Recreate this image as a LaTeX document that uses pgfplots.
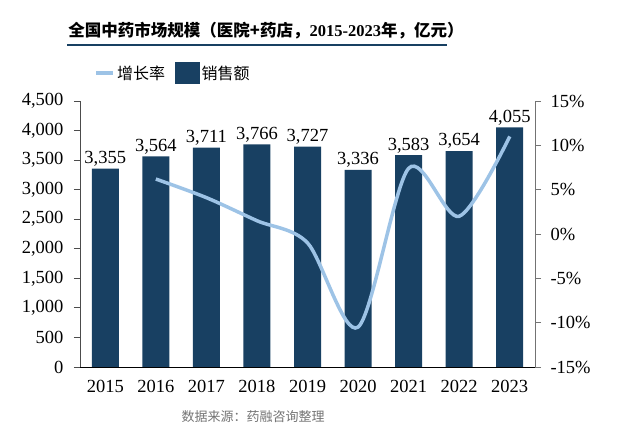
\documentclass[border=0pt]{standalone}
\usepackage{pgfplots}
\pgfplotsset{compat=1.18}
\usepackage{fontspec}
\setmainfont{Liberation Serif}
\newfontfamily\cjk{Noto Sans CJK SC}
\definecolor{navy}{RGB}{24,64,98}
\definecolor{lblue}{RGB}{157,195,230}
\begin{document}
\begin{tikzpicture}[x=1pt,y=1pt]
\useasboundingbox (0,0) rectangle (619,-435);
\node at (266,-31) {\fontsize{16.5}{17}\selectfont\cjk\bfseries 全国中药市场规模（医院+药店，{\rmfamily\bfseries 2015-2023}年，亿元）};
\draw[navy, line width=2pt] (67,-45) -- (447,-45);
\node[text=black!55] at (253,-417) {\fontsize{13}{14}\selectfont\cjk 数据来源：药融咨询整理};
\begin{axis}[
  at={(80pt,-367pt)}, anchor=south west,
  scale only axis, width=455pt, height=266pt,
  xmin=-0.5, xmax=8.5, ymin=0, ymax=4500,
  axis x line*=bottom, axis y line*=left,
  x axis line style={draw=black, line width=0.8pt, -},
  y axis line style={draw=black!70, line width=0.8pt, -},
  xtick={0,...,8}, xticklabels={2015,2016,2017,2018,2019,2020,2021,2022,2023},
  x tick style={draw=none},
  ytick={0,500,...,4500},
  y tick style={draw=black!70, line width=0.8pt},
  tick align=outside, major tick length=6pt,
  /pgf/number format/.cd, fixed, 1000 sep={,}, assume math mode=true, /pgfplots/.cd,
  tick label style={font=\fontsize{18.5}{18}\selectfont},
  y tick label style={xshift=-7pt},
  x tick label style={font=\fontsize{18.5}{18}\selectfont, yshift=-4pt},
  ybar, bar width=27pt,
  nodes near coords,
  every node near coord/.append style={font=\fontsize{18.5}{18}\selectfont, inner sep=1pt, yshift=1pt},
]
\addplot[fill=navy, draw=none] coordinates {(0,3355)(1,3564)(2,3711)(3,3766)(4,3727)(5,3336)(6,3583)(7,3654)(8,4055)};
\end{axis}
\begin{axis}[
  at={(80pt,-367pt)}, anchor=south west,
  scale only axis, width=455pt, height=266pt,
  xmin=-0.5, xmax=8.5, ymin=-15, ymax=15,
  axis x line=none, axis y line*=right,
  y axis line style={draw=black!55, line width=0.8pt, -},
  ytick={-15,-10,...,15},
  y tick style={draw=black!55, line width=0.8pt},
  tick align=outside, major tick length=6pt,
  yticklabel={\pgfmathprintnumber{\tick}\%},
  /pgf/number format/assume math mode=true,
  tick label style={font=\fontsize{18.5}{18}\selectfont, xshift=6pt},
  legend style={at={(0.025,1.105)}, anchor=west, draw=none, fill=none,
    legend columns=2, font=\fontsize{16}{16}\selectfont\cjk,
    /tikz/every even column/.append style={column sep=8pt}},
]
\addplot[smooth, lblue, line width=3.5pt] coordinates {(1,6.2)(2,4.1)(3,1.5)(4,-1.0)(5,-10.5)(6,7.4)(7,2.0)(8,11.0)};
\addlegendentry{增长率}
\addlegendimage{legend image code/.code={\fill[navy] (0pt,-10.5pt) rectangle (24pt,10.5pt);}}
\addlegendentry{销售额}
\end{axis}
\end{tikzpicture}
\end{document}
